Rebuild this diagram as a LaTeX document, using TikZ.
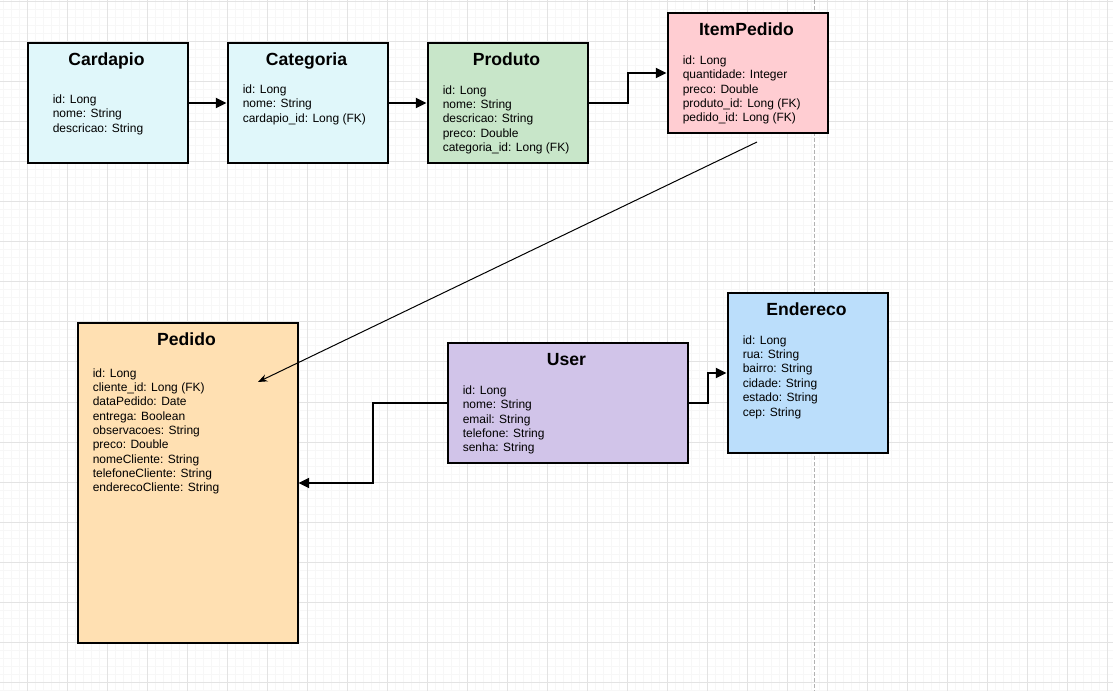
\documentclass[tikz,border=0pt]{standalone}
\usepackage{fontspec}
\setmainfont{Liberation Sans}
\usetikzlibrary{arrows.meta}

\definecolor{cardapioFill}{HTML}{E0F7FA}
\definecolor{produtoFill}{HTML}{C8E6C9}
\definecolor{itemFill}{HTML}{FFCDD2}
\definecolor{pedidoFill}{HTML}{FFE0B2}
\definecolor{userFill}{HTML}{D1C4E9}
\definecolor{enderecoFill}{HTML}{BBDEFB}

\begin{document}
\begin{tikzpicture}[
    x = 0.75pt, y = -0.75pt,
    every node/.append style = {inner sep = 0pt},
    ent box/.style = {draw, line width = 1.5pt, anchor = north west},
    ent ttl/.style = {font = \bfseries\fontsize{13.2}{15}\selectfont, anchor = base},
    ent lbl/.style = {align = left, anchor = base west, font = \fontsize{9}{10.76}\selectfont},
    fk link/.style = {line width = 1.5pt, -{Triangle[length = 8pt, width = 7.5pt]}},
    ref link/.style = {line width = 0.75pt, -{Stealth[length = 7pt, width = 5.5pt]}},
    minor line/.style = {line width = 0.75pt, black!3},
    major line/.style = {line width = 0.75pt, black!11},
    guide line/.style = {line width = 0.75pt, black!30, dash pattern = on 3pt off 1.5pt}
]

\useasboundingbox (0,0) rectangle (1113,691);
\fill[white] (0,0) rectangle (1113,691);

% grid
\foreach \gx in {3,11,...,1113} \draw[minor line] (\gx,0) -- (\gx,691);
\foreach \gy in {2,10,...,691} \draw[minor line] (0,\gy) -- (1113,\gy);
\foreach \gx in {27,67,...,1113} \draw[major line] (\gx,0) -- (\gx,691);
\foreach \gy in {2,42,...,691} \draw[major line] (0,\gy) -- (1113,\gy);
\draw[guide line] (814,0) -- (814,691);

% entities
\foreach \n/\x/\y/\w/\h/\c/\t in {
    cardapio/26.5/42/160/120/cardapioFill/Cardapio,
    categoria/226.5/42/160/120/cardapioFill/Categoria,
    produto/426.5/42/160/120/produtoFill/Produto,
    itempedido/666.5/12/160/120/itemFill/ItemPedido,
    pedido/76.5/322/220/320/pedidoFill/Pedido,
    user/446.5/342/240/120/userFill/User,
    endereco/726.5/292/160/160/enderecoFill/Endereco}{
    \node[ent box, fill = \c, minimum width = \w*0.75pt, minimum height = \h*0.75pt] (\n) at (\x,\y) {};
    \node[ent ttl] (\n T) at ({\x+\w/2},{\y+23.5}) {\t};
}

% field lists (base = last line)
\node[ent lbl] (cardapioL) at (52.5,132.2) {id: Long \\ nome: String \\ descricao: String};
\node[ent lbl] (categoriaL) at (242.5,122.2) {id: Long \\ nome: String \\ cardapio\_id: Long (FK)};
\node[ent lbl] (produtoL) at (442.5,151.4) {id: Long \\ nome: String \\ descricao: String \\ preco: Double \\ categoria\_id: Long (FK)};
\node[ent lbl] (itempedidoL) at (682.5,121.7)
    {id: Long \\ quantidade: Integer \\ preco: Double \\ produto\_id: Long (FK) \\ pedido\_id: Long (FK)};
\node[ent lbl] (pedidoL) at (92.5,491.8)
    {id: Long \\ cliente\_id: Long (FK) \\ dataPedido: Date \\ entrega: Boolean \\ observacoes: String \\
     preco: Double \\ nomeCliente: String \\ telefoneCliente: String \\ enderecoCliente: String};
\node[ent lbl] (userL) at (462.5,451.7) {id: Long \\ nome: String \\ email: String \\ telefone: String \\ senha: String};
\node[ent lbl] (enderecoL) at (742.5,416)
    {id: Long \\ rua: String \\ bairro: String \\ cidade: String \\ estado: String \\ cep: String};

% relations
\draw[fk link] (cardapio.east) -- (categoria.west);
\draw[fk link] (categoria.east) -- (produto.west);
\draw[fk link] (produto.east) -- ++(39,0) |- (itempedido.west);
\draw[fk link] (user.west) -- ++(-74,0) |- (pedido.east);
\draw[fk link] (user.east) -- ++(19,0) |- (endereco.west);

\coordinate (ipOut) at (757,142);
\coordinate (pdIn) at (258,382);
\draw[ref link] (ipOut) -- (pdIn);

\end{tikzpicture}
\end{document}
